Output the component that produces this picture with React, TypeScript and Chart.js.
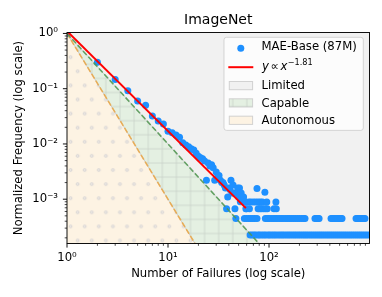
import React, { useEffect, useRef } from 'react';
import { Chart, registerables } from 'chart.js';

Chart.register(...registerables);

// ---------- text ----------
const TITLE = 'ImageNet';
const X_LABEL = 'Number of Failures (log scale)';
const Y_LABEL = 'Normalized Frequency (log scale)';
const SERIES_LABEL = 'MAE-Base (87M)';
const FIT_EXPONENT = '−1.81';
const REGION_LABELS = ['Limited', 'Capable', 'Autonomous'];

// ---------- data: head of the distribution (failures 1..60) ----------
const headFailures = [
  1, 2, 3, 4, 5, 6, 7, 8, 9, 10,
  11, 12, 13, 14, 15, 16, 17, 18, 19, 20,
  21, 22, 23, 24, 25, 26, 27, 28, 29, 30,
  31, 32, 33, 34, 35, 36, 37, 38, 39, 40,
  41, 42, 43, 44, 45, 46, 47, 48, 49, 50,
  51, 52, 53, 54, 55, 56, 57, 58, 59, 60,
];
const headFrequency = [
  1.0, 0.30, 0.147, 0.092, 0.060, 0.050, 0.032, 0.026, 0.023, 0.017,
  0.016, 0.0145, 0.0132, 0.0105, 0.0096, 0.0089, 0.0082, 0.0078, 0.0068, 0.0060,
  0.0056, 0.0054, 0.0049, 0.0022, 0.0045, 0.0040, 0.0042, 0.0037, 0.0022, 0.0031,
  0.0025, 0.0027, 0.0022, 0.0020, 0.0020, 0.0018, 0.0016, 0.00067, 0.0011, 0.0016,
  0.0015, 0.0022, 0.0013, 0.0018, 0.0013, 0.00067, 0.00045, 0.0013, 0.0016, 0.0011,
  0.0016, 0.0009, 0.0013, 0.0011, 0.0009, 0.0011, 0.00045, 0.0009, 0.00067, 0.00067,
];

// ---------- data: tail rows (same frequency level, many failure counts) ----------
const rowFrequency = [2.24e-4, 4.47e-4, 6.7e-4, 8.9e-4, 1.34e-3, 1.57e-3];
const row1Failures = [
  65, 68, 71, 74, 78, 81, 85, 89, 93, 98, 102, 107, 112, 117, 123, 129, 135, 141, 148, 155,
  162, 170, 178, 186, 195, 204, 214, 224, 234, 245, 257, 269, 282, 295, 309, 323, 338, 354, 371, 388,
  406, 425, 445, 466, 488, 511, 535, 560, 586, 614, 643, 673, 705, 738, 773, 809, 847, 887, 929, 972,
];
const row2Failures = [
  60, 63, 66, 69, 72, 76, 92, 96, 100, 105, 110, 115, 120, 126, 132, 138, 145, 152, 159, 166,
  174, 182, 191, 200, 210, 220, 227, 285, 295, 305, 313, 411, 425, 440, 455, 470, 485, 500, 515, 528,
  727, 750, 775, 800, 825, 850, 870, 891,
];
const row3Failures = [64, 78, 81, 84, 88, 92, 96, 112, 118];
const row4Failures = [63, 66, 70, 74, 78, 82, 86, 95, 117];
const row5Failures = [91];
const row6Failures = [76];

// ---------- fitted power law and region boundaries ----------
const fitX = [1, 59];
const fitY = [1.1, 6.9e-4];
const capableX = [1, 100];
const capableY = [1, 1e-4];
const autonomousX = [1, 100];
const autonomousY = [1, 1e-6];

// ---------- axes ----------
const xRange = [1, 988];
const yRange = [1.58e-4, 1.04];
const xTicks = [1, 10, 100];
const xTickLabels = ['10⁰', '10¹', '10²'];
const yTicks = [1e-3, 1e-2, 1e-1, 1];
const yTickLabels = ['10⁻³', '10⁻²', '10⁻¹', '10⁰'];

// ---------- styles ----------
const FONT = '"DejaVu Sans", sans-serif';
const FS = 11.67;
const BLUE = '#1e90ff';
const LIMITED_FILL = '#f1f1f1';
const CAPABLE_FILL = '#e4f0e2';
const AUTONOMOUS_FILL = '#fdf3e3';
const EDGE_GRAY = 'rgba(200,200,200,0.9)';
const GREEN_LINE = 'rgba(80,150,80,0.85)';
const ORANGE_LINE = 'rgba(232,170,80,0.95)';
const HATCH = 14.1;

function makeGridPattern(ctx: CanvasRenderingContext2D) {
  const c = document.createElement('canvas');
  c.width = 14; c.height = 14;
  const g = c.getContext('2d')!;
  g.fillStyle = CAPABLE_FILL;
  g.fillRect(0, 0, 14, 14);
  g.strokeStyle = 'rgba(200,208,200,0.7)';
  g.lineWidth = 1;
  g.beginPath();
  g.moveTo(7, 0); g.lineTo(7, 14);
  g.moveTo(0, 7); g.lineTo(14, 7);
  g.stroke();
  const p = ctx.createPattern(c, 'repeat')!;
  const s = HATCH / 14;
  p.setTransform(new DOMMatrix([s, 0, 0, s, 0.1, 0.8]));
  return p;
}

function makeDotPattern(ctx: CanvasRenderingContext2D) {
  const c = document.createElement('canvas');
  c.width = 28; c.height = 28;
  const g = c.getContext('2d')!;
  g.fillStyle = AUTONOMOUS_FILL;
  g.fillRect(0, 0, 28, 28);
  g.strokeStyle = 'rgba(200,200,205,0.6)';
  g.fillStyle = 'rgba(225,225,228,0.5)';
  g.lineWidth = 1;
  const dots = [[3.5, 7], [17.5, 7], [10.5, 21], [24.5, 21]];
  for (const [x, y] of dots) {
    g.beginPath();
    g.arc(x, y, 1.4, 0, Math.PI * 2);
    g.fill();
    g.stroke();
  }
  const p = ctx.createPattern(c, 'repeat')!;
  const s = HATCH / 14;
  p.setTransform(new DOMMatrix([s, 0, 0, s, -3.43, -6.26]));
  return p;
}

const toPoints = (xs: number[], ys: number[]) => xs.map((x, i) => ({ x, y: ys[i] }));
const rowPoints = (xs: number[], y: number) => xs.map((x) => ({ x, y }));

export default function App() {
  const ref = useRef<HTMLCanvasElement>(null);

  useEffect(() => {
    const canvas = ref.current!;
    const ctx = canvas.getContext('2d')!;
    const gridPattern = makeGridPattern(ctx);
    const dotPattern = makeDotPattern(ctx);

    const scatterData = [
      ...toPoints(headFailures, headFrequency),
      ...rowPoints(row1Failures, rowFrequency[0]),
      ...rowPoints(row2Failures, rowFrequency[1]),
      ...rowPoints(row3Failures, rowFrequency[2]),
      ...rowPoints(row4Failures, rowFrequency[3]),
      ...rowPoints(row5Failures, rowFrequency[4]),
      ...rowPoints(row6Failures, rowFrequency[5]),
    ];

    const decorations = {
      id: 'decorations',
      beforeDatasetsDraw(chart: any) {
        const { ctx: c, chartArea: a } = chart;
        c.save();
        c.fillStyle = LIMITED_FILL;
        c.fillRect(a.left, a.top, a.right - a.left, a.bottom - a.top);
        c.restore();
      },
      afterDraw(chart: any) {
        const { ctx: c, chartArea: a, scales } = chart;
        const xs = scales.x;
        const ys = scales.y;
        c.save();
        // frame
        c.strokeStyle = '#000';
        c.lineWidth = 0.93;
        c.strokeRect(a.left, a.top, a.right - a.left, a.bottom - a.top);
        // tick marks
        for (let e = 0; e <= 3; e++) {
          for (let m = 1; m <= 9; m++) {
            const v = m * Math.pow(10, e);
            if (v < xs.min || v > xs.max) continue;
            const px = xs.getPixelForValue(v);
            const major = m === 1;
            c.lineWidth = major ? 0.93 : 0.7;
            c.beginPath();
            c.moveTo(px, a.bottom);
            c.lineTo(px, a.bottom + (major ? 4.1 : 2.3));
            c.stroke();
          }
        }
        for (let e = -4; e <= 0; e++) {
          for (let m = 1; m <= 9; m++) {
            const v = m * Math.pow(10, e);
            if (v < ys.min || v > ys.max) continue;
            const py = ys.getPixelForValue(v);
            const major = m === 1;
            c.lineWidth = major ? 0.93 : 0.7;
            c.beginPath();
            c.moveTo(a.left, py);
            c.lineTo(a.left - (major ? 4.1 : 2.3), py);
            c.stroke();
          }
        }
        // legend
        const lx0 = 224, ly0 = 37.3, lx1 = a.right - 6.2, ly1 = 130.4;
        c.fillStyle = 'rgba(255,255,255,0.8)';
        c.strokeStyle = 'rgba(204,204,204,0.8)';
        c.lineWidth = 1;
        c.beginPath();
        c.roundRect(lx0, ly0, lx1 - lx0, ly1 - ly0, 2.5);
        c.fill();
        c.stroke();

        const tx = 261.5;
        const baselines = [50.2, 69.5, 89.3, 106.6, 124.0];
        c.textBaseline = 'alphabetic';
        c.textAlign = 'left';
        // row 1: scatter
        c.fillStyle = BLUE;
        c.beginPath();
        c.arc(240.8, baselines[0] - 2, 3.5, 0, Math.PI * 2);
        c.fill();
        c.fillStyle = '#000';
        c.font = `${FS}px ${FONT}`;
        c.fillText(SERIES_LABEL, tx, baselines[0]);
        // row 2: fit
        c.strokeStyle = 'red';
        c.lineWidth = 2;
        c.beginPath();
        c.moveTo(228.3, baselines[1] - 2.3);
        c.lineTo(253.3, baselines[1] - 2.3);
        c.stroke();
        let cx = tx + 0.5;
        c.font = `italic ${FS}px ${FONT}`;
        c.fillText('y', cx, baselines[1]);
        cx += c.measureText('y').width + 1.6;
        c.font = `${FS}px ${FONT}`;
        c.fillText('∝', cx, baselines[1]);
        cx += c.measureText('∝').width + 1.6;
        c.font = `italic ${FS}px ${FONT}`;
        c.fillText('x', cx, baselines[1]);
        cx += c.measureText('x').width + 0.4;
        c.font = `${FS * 0.7}px ${FONT}`;
        c.fillText(FIT_EXPONENT, cx, baselines[1] - 4.6);
        // rows 3-5: regions
        const fills: (string | CanvasPattern)[] = [LIMITED_FILL, gridPattern, AUTONOMOUS_FILL];
        for (let i = 0; i < 3; i++) {
          const b = baselines[2 + i];
          c.fillStyle = fills[i];
          c.fillRect(229.3, b - 7.8, 23.3, 8.2);
          c.strokeStyle = 'rgba(200,200,200,0.8)';
          c.lineWidth = 1;
          c.strokeRect(229.3, b - 7.8, 23.3, 8.2);
          c.fillStyle = '#000';
          c.font = `${FS}px ${FONT}`;
          c.fillText(REGION_LABELS[i], tx, b);
        }
        c.restore();
      },
    };

    const chart = new Chart(ctx, {
      type: 'scatter',
      data: {
        datasets: [
          {
            type: 'line',
            label: 'fit',
            data: toPoints(fitX, fitY),
            borderColor: 'red',
            borderWidth: 2,
            pointRadius: 0,
            fill: false,
            order: 0,
          },
          {
            type: 'line',
            label: 'capable edge',
            data: toPoints(capableX, capableY),
            borderColor: GREEN_LINE,
            borderDash: [5.5, 2.4],
            borderWidth: 1.6,
            pointRadius: 0,
            fill: false,
            order: 1,
          },
          {
            type: 'line',
            label: 'autonomous edge',
            data: toPoints(autonomousX, autonomousY),
            borderColor: ORANGE_LINE,
            borderDash: [5.5, 2.4],
            borderWidth: 1.6,
            pointRadius: 0,
            fill: false,
            order: 2,
          },
          {
            type: 'scatter',
            label: SERIES_LABEL,
            data: scatterData,
            backgroundColor: BLUE,
            borderWidth: 0,
            pointRadius: 3.5,
            order: 3,
          } as any,
          {
            type: 'line',
            label: REGION_LABELS[2],
            data: toPoints(autonomousX, autonomousY),
            borderColor: EDGE_GRAY,
            borderWidth: 1,
            backgroundColor: dotPattern as any,
            pointRadius: 0,
            fill: 'start',
            order: 4,
          },
          {
            type: 'line',
            label: REGION_LABELS[1],
            data: toPoints(capableX, capableY),
            borderColor: EDGE_GRAY,
            borderWidth: 1,
            backgroundColor: gridPattern as any,
            pointRadius: 0,
            fill: 'start',
            order: 5,
          },
        ],
      },
      options: {
        responsive: false,
        animation: false,
        devicePixelRatio: 1,
        events: [],
        layout: { padding: { left: 0, right: 12.5, top: 0, bottom: 0 } },
        plugins: {
          legend: { display: false },
          tooltip: { enabled: false },
          title: {
            display: true,
            text: TITLE,
            fullSize: false,
            color: '#000',
            font: { family: FONT, size: 14, weight: 'normal', lineHeight: 1.2 },
            padding: { top: 11.76, bottom: 3.94 },
          },
        },
        scales: {
          x: {
            type: 'logarithmic',
            position: 'bottom',
            min: xRange[0],
            max: xRange[1],
            afterFit: (s: any) => { s.height = 53.5; },
            afterBuildTicks: (s: any) => { s.ticks = xTicks.map((v) => ({ value: v })); },
            ticks: {
              autoSkip: false,
              maxRotation: 0,
              padding: 7.5,
              color: '#000',
              font: { family: FONT, size: FS },
              callback: (v: any) => xTickLabels[xTicks.indexOf(Number(v))] ?? '',
            },
            grid: { display: false, drawTicks: false },
            border: { display: false },
            title: {
              display: true,
              text: X_LABEL,
              color: '#000',
              font: { family: FONT, size: FS, lineHeight: 1.2 },
              padding: { top: 0, bottom: 16.3 },
            },
          },
          y: {
            type: 'logarithmic',
            position: 'left',
            min: yRange[0],
            max: yRange[1],
            afterFit: (s: any) => { s.width = 67; },
            afterBuildTicks: (s: any) => { s.ticks = yTicks.map((v) => ({ value: v })); },
            ticks: {
              autoSkip: false,
              padding: 9,
              color: '#000',
              font: { family: FONT, size: FS },
              callback: (v: any) => yTickLabels[yTicks.indexOf(Number(v))] ?? '',
            },
            grid: { display: false, drawTicks: false },
            border: { display: false },
            title: {
              display: true,
              text: Y_LABEL,
              color: '#000',
              font: { family: FONT, size: FS, lineHeight: 1.2 },
              padding: { top: 11.7, bottom: 0 },
            },
          },
        },
      } as any,
      plugins: [decorations],
    });

    return () => chart.destroy();
  }, []);

  return (
    <div style={{ position: 'fixed', left: 0, top: 0, width: 382, height: 297, background: '#fff' }}>
      <canvas ref={ref} width={382} height={297} style={{ display: 'block', width: 382, height: 297 }} />
    </div>
  );
}
